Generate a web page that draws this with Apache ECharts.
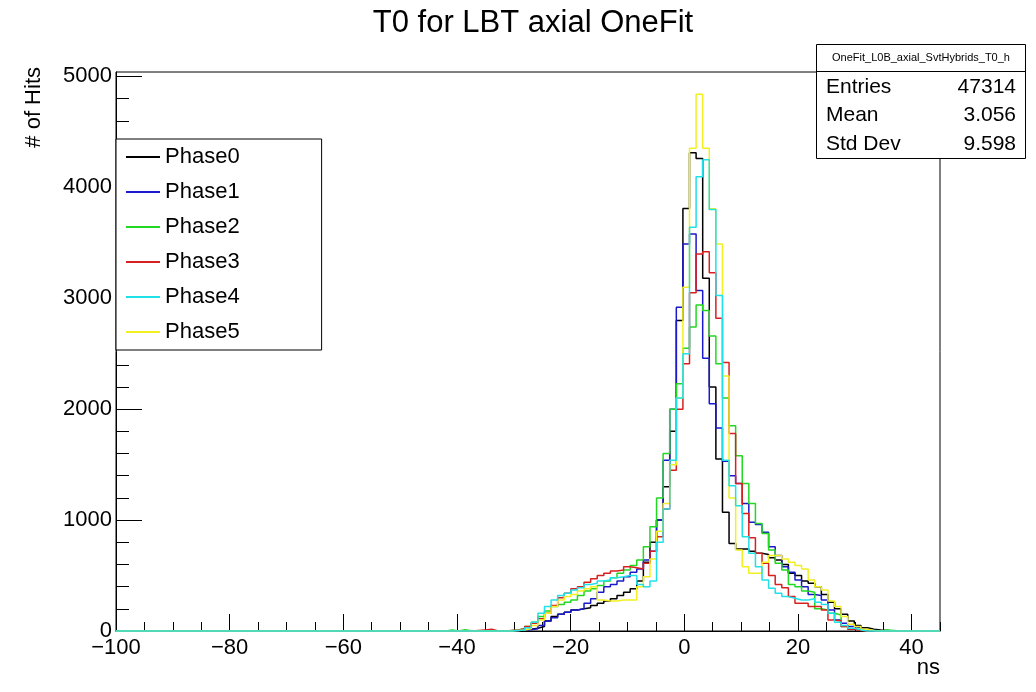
<!DOCTYPE html>
<html><head><meta charset="utf-8">
<script src="https://cdn.jsdelivr.net/npm/echarts@6/dist/echarts.min.js"></script>
<style>html,body{margin:0;padding:0;background:#fff}#c{width:1036px;height:692px}</style>
</head><body><div id="c"></div>
<script>
// Histogram definition: 125 bins from -100 to 45 ns
const xMin = -100, xMax = 45, binCount = 125;
// values below are bins firstBin .. firstBin+70 (all other bins are empty)
const firstBin = 50;
const seriesNames = ['Phase0', 'Phase1', 'Phase2', 'Phase3', 'Phase4', 'Phase5'];
const seriesColors = ['#000000', '#1a1acc', '#22d822', '#d82020', '#20e0e8', '#f2f020'];

const phase0 = [0,0,0,0,0,0,0,0,0,0,
  5,10,15,25,40,90,130,150,170,190,
  200,210,230,250,270,290,320,350,380,450,
  620,800,1000,1300,1800,2800,3810,4311,4260,3180,
  2200,1550,1070,790,740,740,720,700,690,660,
  640,600,520,500,450,430,400,330,260,200,
  150,90,50,30,15,8,5,0,3,0,0];
const phase1 = [0,0,0,0,0,0,0,0,0,3,
  5,8,12,20,50,90,120,150,170,190,
  200,250,290,350,400,420,450,490,530,560,
  640,720,1000,1540,2000,2920,3490,3580,3070,2460,
  2050,1830,1530,1400,1330,1150,980,960,890,760,
  680,580,530,460,400,330,320,280,190,100,
  70,40,30,10,5,0,0,0,0,0,0];
const phase2 = [8,0,12,0,0,5,0,0,3,5,
  10,20,40,80,130,180,220,240,260,280,
  320,360,380,410,450,480,520,550,590,640,
  760,940,1200,1600,2000,2230,2550,2740,2940,2890,
  2660,2410,2100,1850,1580,1330,1150,970,880,730,
  610,550,420,400,360,350,200,190,160,145,
  40,20,10,5,5,0,10,5,0,0,0];
const phase3 = [0,0,0,0,5,10,15,0,0,5,
  10,20,40,70,110,160,230,300,340,380,
  400,440,470,500,520,540,550,580,570,560,
  610,720,850,1100,1450,2000,2410,3050,3400,3420,
  3230,2820,2420,1780,1330,1060,840,700,610,500,
  420,390,310,250,250,220,220,190,100,90,
  40,15,5,0,0,0,0,0,0,0,0];
const phase4 = [0,0,0,0,0,0,0,0,0,0,
  5,10,30,80,160,220,280,320,340,370,
  390,420,430,450,460,480,490,500,500,420,
  400,450,800,1100,1540,2100,2500,3640,4095,4248,
  3800,3024,1540,1310,1130,850,700,580,460,385,
  340,310,295,280,280,290,260,240,160,80,
  50,25,10,0,0,0,0,0,0,0,0];
const phase5 = [0,0,0,0,0,0,0,0,0,0,
  5,10,20,50,100,160,220,280,310,330,
  360,380,400,280,270,270,280,280,280,400,
  490,650,900,1150,1500,2100,3100,4353,4840,4353,
  3807,3490,2300,1200,730,580,520,520,620,680,
  680,650,620,590,560,460,400,370,270,220,
  130,60,40,15,5,0,0,0,0,0,0];
const phaseValues = [phase0, phase1, phase2, phase3, phase4, phase5];

const xTicks = [-100, -80, -60, -40, -20, 0, 20, 40];
const xMinorTicks = [-100,-95,-90,-85,-80,-75,-70,-65,-60,-55,-50,-45,-40,-35,-30,-25,-20,-15,-10,-5,0,5,10,15,20,25,30,35,40,45];
const yTicks = [0, 1000, 2000, 3000, 4000, 5000];
const yMinorTicks = [0,200,400,600,800,1000,1200,1400,1600,1800,2000,2200,2400,2600,2800,3000,3200,3400,3600,3800,4000,4200,4400,4600,4800,5000];
const yMax = 5040;

const statsTitle = 'OneFit_L0B_axial_SvtHybrids_T0_h';
const statsRows = [['Entries', '47314'], ['Mean', '3.056'], ['Std Dev', '9.598']];

const FONT = '"Liberation Sans", Arial, Helvetica, sans-serif';
const binWidth = (xMax - xMin) / binCount;

function histPoints(vals) {
  const pts = [];
  for (let k = 0; k < binCount; k++) {
    const i = k - firstBin;
    const v = (i >= 0 && i < vals.length) ? vals[i] : 0;
    pts.push([xMin + k * binWidth, v]);
  }
  pts.push([xMax, pts[pts.length - 1][1]]);
  return pts;
}

const zOrder = [2, 3, 4, 5, 7, 6];
const series = seriesNames.map((name, s) => ({
  name, type: 'line', step: 'end', symbol: 'none', showSymbol: false, clip: false,
  xAxisIndex: 0, yAxisIndex: 0, z: zOrder[s],
  lineStyle: { color: seriesColors[s], width: 1.5 },
  itemStyle: { color: seriesColors[s] },
  data: histPoints(phaseValues[s])
}));

const minus = v => String(v).replace('-', '\u2212');
const plain = v => String(v);

const chart = echarts.init(document.getElementById('c'), null, { renderer: 'canvas' });
chart.setOption({
  backgroundColor: '#ffffff',
  animation: false,
  textStyle: { fontFamily: FONT },
  title: {
    text: 'T0 for LBT axial OneFit', left: 528, top: 3, textAlign: 'center',
    textStyle: { fontFamily: FONT, fontSize: 31, fontWeight: 'normal', color: '#000' }
  },
  grid: { left: 116, right: 96, top: 72, bottom: 61, show: true, borderColor: '#000', borderWidth: 1, backgroundColor: 'transparent' },
  legend: {
    orient: 'vertical', left: 116, top: 139, padding: [6, 82, 6, 10],
    icon: 'rect', itemWidth: 34, itemHeight: 2, itemGap: 11,
    backgroundColor: '#fff', borderColor: '#000', borderWidth: 1, borderRadius: 0,
    textStyle: { fontFamily: FONT, fontSize: 22, lineHeight: 24, color: '#000' },
    data: seriesNames
  },
  xAxis: [{
    type: 'value', min: xMin, max: xMax, position: 'bottom',
    axisLine: { show: true, onZero: false, lineStyle: { color: '#000', width: 1 } },
    axisTick: { show: true, inside: true, length: 17, customValues: xTicks, lineStyle: { color: '#000' } },
    axisLabel: { show: true, customValues: xTicks, margin: 6, color: '#000', fontSize: 22, fontFamily: FONT, formatter: minus },
    splitLine: { show: false }
  }, {
    type: 'value', min: xMin, max: xMax, position: 'bottom',
    axisLine: { show: false, onZero: false },
    axisTick: { show: true, inside: true, length: 9, customValues: xMinorTicks, lineStyle: { color: '#000' } },
    axisLabel: { show: false }, splitLine: { show: false }
  }],
  yAxis: [{
    type: 'value', min: 0, max: yMax, position: 'left',
    axisLine: { show: true, onZero: false, lineStyle: { color: '#000', width: 1 } },
    axisTick: { show: true, inside: true, length: 26, customValues: yTicks, lineStyle: { color: '#000' } },
    axisLabel: { show: true, customValues: yTicks, margin: 4, color: '#000', fontSize: 22, fontFamily: FONT, formatter: plain },
    splitLine: { show: false }
  }, {
    type: 'value', min: 0, max: yMax, position: 'left',
    axisLine: { show: false, onZero: false },
    axisTick: { show: true, inside: true, length: 13, customValues: yMinorTicks, lineStyle: { color: '#000' } },
    axisLabel: { show: false }, splitLine: { show: false }
  }],
  graphic: [
    { type: 'text', x: 34, y: 67, rotation: Math.PI / 2,
      style: { text: '# of Hits', font: '22px ' + FONT, fill: '#000', align: 'right', verticalAlign: 'middle' } },
    { type: 'text', x: 940, y: 668,
      style: { text: 'ns', font: '22px ' + FONT, fill: '#000', align: 'right', verticalAlign: 'middle' } },
    { type: 'group', z: 100, children: [
      { type: 'rect', shape: { x: 816.5, y: 44.5, width: 209, height: 114 },
        style: { fill: '#fff', stroke: '#000', lineWidth: 1 } },
      { type: 'line', shape: { x1: 816.5, y1: 71.5, x2: 1025.5, y2: 71.5 }, style: { stroke: '#000', lineWidth: 1 } },
      { type: 'text', x: 921, y: 58, style: { text: statsTitle, font: '11px ' + FONT, fill: '#000', align: 'center', verticalAlign: 'middle' } },
      ...statsRows.flatMap((r, i) => [
        { type: 'text', x: 826, y: 87 + i * 28.5, style: { text: r[0], font: '21px ' + FONT, fill: '#000', align: 'left', verticalAlign: 'middle' } },
        { type: 'text', x: 1016, y: 87 + i * 28.5, style: { text: r[1], font: '21px ' + FONT, fill: '#000', align: 'right', verticalAlign: 'middle' } }
      ])
    ]}
  ],
  series
});
</script></body></html>
